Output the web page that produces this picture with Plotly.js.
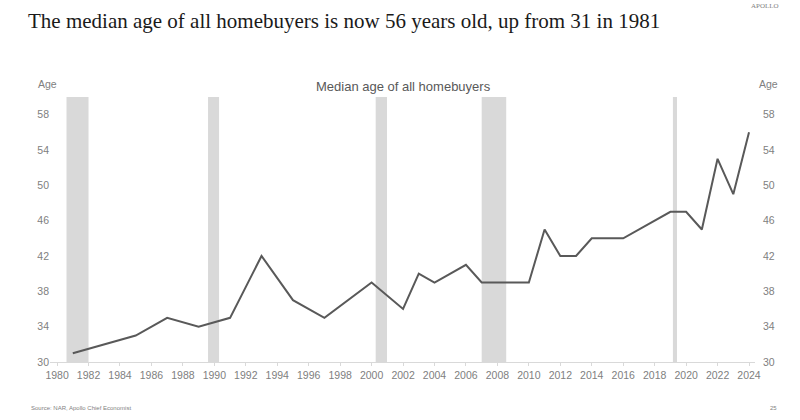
<!DOCTYPE html>
<html>
<head>
<meta charset="utf-8">
<script src="https://cdn.plot.ly/plotly-3.0.1.min.js"></script>
<style>html,body{margin:0;padding:0;background:#fff;}#chart{width:800px;height:420px;}</style>
</head>
<body>
<div id="chart"></div>
<script>
// Data
const years = [1981, 1985, 1987, 1989, 1991, 1993, 1995, 1997, 2000, 2002, 2003, 2004, 2006, 2007, 2010, 2011, 2012, 2013, 2014, 2016, 2019, 2020, 2021, 2022, 2023, 2024];
const medianAge = [31, 33, 35, 34, 35, 42, 37, 35, 39, 36, 40, 39, 41, 39, 39, 45, 42, 42, 44, 44, 47, 47, 45, 53, 49, 56];
const recessionStart = [1980.6, 1989.6, 2000.26, 2007.0, 2019.16];
const recessionEnd = [1982.0, 1990.3, 2000.98, 2008.56, 2019.42];
const xTickVals = [1980, 1982, 1984, 1986, 1988, 1990, 1992, 1994, 1996, 1998, 2000, 2002, 2004, 2006, 2008, 2010, 2012, 2014, 2016, 2018, 2020, 2022, 2024];
const yTickVals = [30, 34, 38, 42, 46, 50, 54, 58];

const W = 800, H = 420;
const M = {l: 50, r: 45, t: 97, b: 58};
const pw = W - M.l - M.r, ph = H - M.t - M.b;
const px = x => (x - M.l) / pw;
const py = y => (H - M.b - y) / ph;

const tickFont = {family: 'Liberation Sans, Arial, sans-serif', size: 10.5, color: '#808080'};

const shapes = recessionStart.map((s, i) => ({
  type: 'rect', xref: 'x', yref: 'paper', x0: s, x1: recessionEnd[i], y0: 0, y1: 1,
  fillcolor: '#d9d9d9', line: {width: 0}, layer: 'below'
}));

const traces = [
  {x: years, y: medianAge, type: 'scatter', mode: 'lines', line: {color: '#595959', width: 2}, hoverinfo: 'skip', showlegend: false},
  {x: years, y: medianAge, type: 'scatter', mode: 'lines', yaxis: 'y2', line: {color: 'rgba(0,0,0,0)', width: 0}, hoverinfo: 'skip', showlegend: false}
];

const layout = {
  width: W, height: H,
  margin: M,
  paper_bgcolor: '#fff', plot_bgcolor: '#fff',
  showlegend: false,
  title: {
    text: 'The median age of all homebuyers is now 56 years old, up from 31 in 1981',
    font: {family: 'Liberation Serif, Times New Roman, serif', size: 21, color: '#1a1a1a'},
    xref: 'container', yref: 'container', x: 28 / W, xanchor: 'left', y: 1 - 21 / H, yanchor: 'middle'
  },
  xaxis: {
    range: [1979.55, 2024.38], tickvals: xTickVals, ticktext: xTickVals.map(String),
    showgrid: false, zeroline: false, showline: true, linecolor: '#d9d9d9', linewidth: 1,
    ticks: 'outside', ticklen: 3, tickcolor: '#d9d9d9', tickfont: tickFont, fixedrange: true
  },
  yaxis: {
    range: [30, 60], tickvals: yTickVals, showgrid: false, zeroline: false, showline: false,
    ticks: '', tickfont: tickFont, fixedrange: true
  },
  yaxis2: {
    range: [30, 60], tickvals: yTickVals, overlaying: 'y', side: 'right', showgrid: false,
    zeroline: false, showline: false, ticks: '', tickfont: tickFont, ticklabelstandoff: 7, fixedrange: true
  },
  shapes: shapes,
  annotations: [
    {text: 'Median age of all homebuyers', xref: 'paper', yref: 'paper', x: px(403.5), y: py(86), xanchor: 'center', yanchor: 'middle', showarrow: false,
     font: {family: 'Liberation Sans, Arial, sans-serif', size: 13, color: '#595959'}},
    {text: 'Age', xref: 'paper', yref: 'paper', x: px(36), y: py(84), xanchor: 'left', yanchor: 'middle', showarrow: false, font: tickFont},
    {text: 'Age', xref: 'paper', yref: 'paper', x: px(757), y: py(84), xanchor: 'left', yanchor: 'middle', showarrow: false, font: tickFont},
    {text: 'Source: NAR, Apollo Chief Economist', xref: 'paper', yref: 'paper', x: px(29), y: py(408), xanchor: 'left', yanchor: 'middle', showarrow: false,
     font: {family: 'Liberation Sans Narrow, Liberation Sans, Arial, sans-serif', size: 6, color: '#7f7f7f'}},
    {text: '25', xref: 'paper', yref: 'paper', x: px(779), y: py(408), xanchor: 'right', yanchor: 'middle', showarrow: false,
     font: {family: 'Liberation Sans, Arial, sans-serif', size: 6, color: '#7f7f7f'}},
    {text: 'APOLLO', xref: 'paper', yref: 'paper', x: px(781), y: py(6), xanchor: 'right', yanchor: 'middle', showarrow: false,
     font: {family: 'Liberation Serif, serif', size: 7, color: '#7f7f7f'}}
  ]
};

Plotly.newPlot('chart', traces, layout, {displayModeBar: false, staticPlot: true});
</script>
</body>
</html>
